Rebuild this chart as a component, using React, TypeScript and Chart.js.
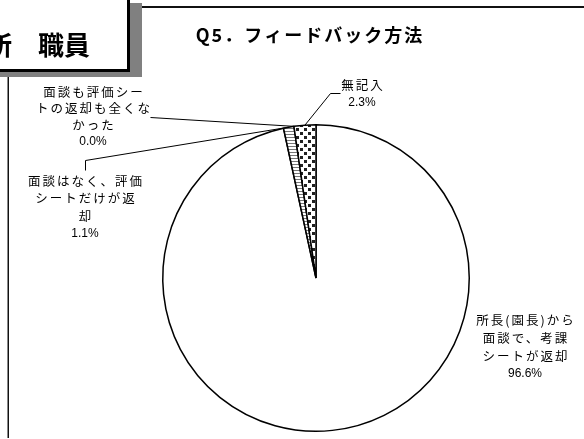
import React, { useEffect, useRef } from "react";
import { Chart, registerables } from "chart.js";
Chart.register(...registerables);

const categories = [
  "所長(園長)から面談で、考課シートが返却",
  "面談はなく、評価シートだけが返却",
  "面談も評価シートの返却も全くなかった",
  "無記入",
];
const values = [96.6, 1.1, 0.0, 2.3];
const labelLines = [
  ["所長(園長)から", "面談で、考課", "シートが返却"],
  ["面談はなく、評価", "シートだけが返", "却"],
  ["面談も評価シー", "トの返却も全くな", "かった"],
  ["無記入"],
];
const percentLabels = values.map((v) => v.toFixed(1) + "%");
const titleText = "Q5．フィードバック方法";
const boxText = "所　職員";

const W = 584;
const H = 439;
const JP = '"Noto Sans CJK JP", sans-serif';
const LAT = '"Liberation Sans", Arial, sans-serif';

// label placement: text center x, first line y, line step, leader start points
const labelPos = [
  { x: 525, y: 320, step: 18, leader: [] as number[][] },
  { x: 85, y: 181, step: 17.5, leader: [[85, 170], [85, 160]] },
  { x: 93, y: 92, step: 16.5, leader: [[150, 117]] },
  { x: 362, y: 85, step: 18, leader: [[340, 93], [330, 93]] },
];

function makeLinesPattern(): CanvasPattern | string {
  const c = document.createElement("canvas");
  c.width = 4;
  c.height = 3;
  const g = c.getContext("2d")!;
  g.fillStyle = "#ffffff";
  g.fillRect(0, 0, 4, 3);
  g.fillStyle = "#777777";
  g.fillRect(0, 2, 4, 1);
  return g.createPattern(c, "repeat") || "#ccc";
}

function makeDotsPattern(): CanvasPattern | string {
  const c = document.createElement("canvas");
  c.width = 8;
  c.height = 8;
  const g = c.getContext("2d")!;
  g.fillStyle = "#ffffff";
  g.fillRect(0, 0, 8, 8);
  g.fillStyle = "#222222";
  g.fillRect(0, 0, 3, 3);
  g.fillRect(4, 4, 3, 3);
  return g.createPattern(c, "repeat") || "#888";
}

function spaced(ctx: CanvasRenderingContext2D, px: string) {
  (ctx as any).letterSpacing = px;
}

const decorPlugin = {
  id: "decor",
  beforeDraw(chart: any) {
    const ctx = chart.ctx as CanvasRenderingContext2D;
    ctx.save();
    ctx.fillStyle = "#fff";
    ctx.fillRect(0, 0, W, H);
    // frame
    ctx.strokeStyle = "#111";
    ctx.lineWidth = 2;
    ctx.beginPath();
    ctx.moveTo(142, 7);
    ctx.lineTo(W, 7);
    ctx.stroke();
    ctx.lineWidth = 1.5;
    ctx.beginPath();
    ctx.moveTo(8.25, 77);
    ctx.lineTo(8.25, 438);
    ctx.stroke();
    // box shadow
    ctx.fillStyle = "#808080";
    ctx.fillRect(-20, 3, 162, 74);
    // box
    ctx.fillStyle = "#fff";
    ctx.fillRect(-30, -10, 158.5, 80.5);
    ctx.strokeStyle = "#000";
    ctx.lineWidth = 3;
    ctx.strokeRect(-30, -10, 158.5, 80.5);
    ctx.fillStyle = "#000";
    ctx.font = "bold 26px " + JP;
    ctx.textAlign = "right";
    ctx.textBaseline = "middle";
    ctx.fillText(boxText, 90, 45);
    // title
    ctx.font = "bold 18px " + JP;
    ctx.textAlign = "center";
    spaced(ctx, "2px");
    ctx.fillText(titleText, 310, 35);
    ctx.restore();
  },
  afterDraw(chart: any) {
    const ctx = chart.ctx as CanvasRenderingContext2D;
    const meta = chart.getDatasetMeta(0);
    ctx.save();
    ctx.fillStyle = "#000";
    ctx.strokeStyle = "#000";
    ctx.lineWidth = 1;
    ctx.textAlign = "center";
    ctx.textBaseline = "middle";
    meta.data.forEach((arc: any, i: number) => {
      const p = labelPos[i];
      const lines = labelLines[i];
      ctx.font = "12.5px " + JP;
      spaced(ctx, "2px");
      lines.forEach((t, k) => ctx.fillText(t, p.x + 1, p.y + k * p.step));
      ctx.font = "12px " + LAT;
      spaced(ctx, "0px");
      ctx.fillText(percentLabels[i], p.x, p.y + lines.length * p.step);
      if (p.leader.length) {
        const mid = (arc.startAngle + arc.endAngle) / 2;
        const ax = arc.x + Math.cos(mid) * arc.outerRadius;
        const ay = arc.y + Math.sin(mid) * arc.outerRadius;
        ctx.beginPath();
        ctx.moveTo(p.leader[0][0] + 0.5, p.leader[0][1] + 0.5);
        for (let k = 1; k < p.leader.length; k++) ctx.lineTo(p.leader[k][0] + 0.5, p.leader[k][1] + 0.5);
        ctx.lineTo(ax, ay);
        ctx.stroke();
      }
    });
    ctx.restore();
  },
};

export default function App() {
  const ref = useRef<HTMLCanvasElement>(null);
  useEffect(() => {
    const canvas = ref.current!;
    const chart = new Chart(canvas, {
      type: "pie",
      data: {
        labels: categories,
        datasets: [
          {
            data: values,
            backgroundColor: ["#ffffff", makeLinesPattern(), "#ffffff", makeDotsPattern()] as any,
            borderColor: "#000",
            borderWidth: 1.5,
          },
        ],
      },
      options: {
        responsive: false,
        animation: false,
        layout: { padding: { left: 162, right: 114, top: 124, bottom: 7 } },
        plugins: { legend: { display: false }, tooltip: { enabled: false }, title: { display: false } },
      },
      plugins: [decorPlugin],
    });
    return () => chart.destroy();
  }, []);
  return (
    <div style={{ position: "fixed", left: 0, top: 0, width: W, height: H, background: "#fff" }}>
      <canvas ref={ref} width={W} height={H} style={{ display: "block", width: W, height: H }} />
    </div>
  );
}
